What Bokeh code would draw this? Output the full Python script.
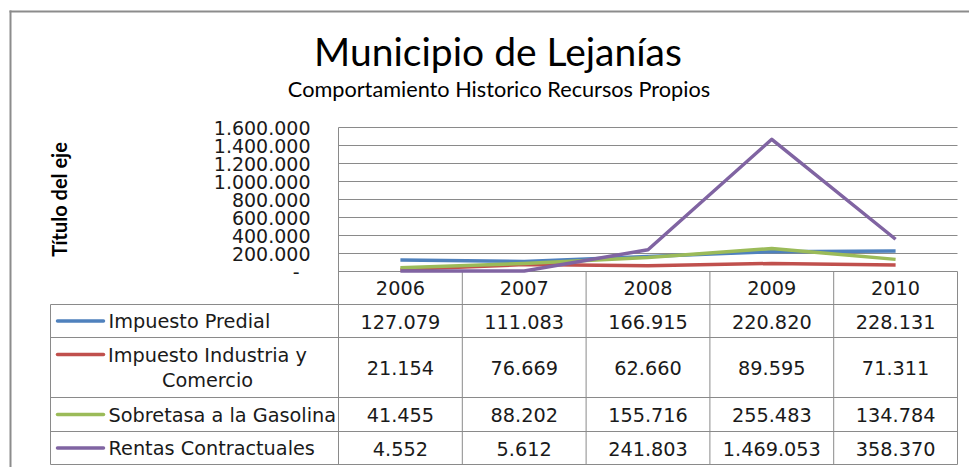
import math
from bokeh.plotting import figure
from bokeh.models import Range1d
from bokeh.core.properties import value
from bokeh.embed import file_html
from bokeh.resources import INLINE

# ---------------- data ----------------
title = "Municipio de Lejanías"
subtitle = "Comportamiento Historico Recursos Propios"
y_axis_title = "Título del eje"
years = ["2006", "2007", "2008", "2009", "2010"]
series_names = ["Impuesto Predial", "Impuesto Industria y Comercio",
                "Sobretasa a la Gasolina", "Rentas Contractuales"]
predial = [127079, 111083, 166915, 220820, 228131]
industria = [21154, 76669, 62660, 89595, 71311]
gasolina = [41455, 88202, 155716, 255483, 134784]
rentas = [4552, 5612, 241803, 1469053, 358370]
series_values = [predial, industria, gasolina, rentas]
series_colors = ["#4F81BD", "#C0504D", "#9BBB59", "#8064A2"]
y_ticks = [0, 200000, 400000, 600000, 800000, 1000000, 1200000, 1400000, 1600000]


def fmt(v):
    return "-" if v == 0 else f"{v:,.0f}".replace(",", ".")


def wrap(name, limit=24):
    if len(name) <= limit:
        return [name]
    cut = name.rfind(" ", 0, limit)
    return [name[:cut], name[cut + 1:]]


# ---------------- layout (page px) ----------------
W, H = 969, 467
OFF = 0


def X(rx):
    return rx - OFF


def Y(ry):
    return ry - OFF


PX0, PX1 = X(338), X(957)
PY_TOP, PY_ZERO = Y(127), Y(271)
YMAX = y_ticks[-1]
ncol = len(years)
colw = (PX1 - PX0) / ncol
vpp = YMAX / (PY_ZERO - PY_TOP)

GRID = "#8a8a8a"
TXT = "#1a1a1a"
TFONT = value("DejaVu Sans")
TICKSIZE = "19px"
TSIZE = "19.3px"

p = figure(width=W, height=H, x_range=Range1d(0, W), y_range=Range1d(H, 0),
           output_backend="svg", toolbar_location=None,
           x_axis_location=None, y_axis_location=None, title_location=None,
           min_border=0, outline_line_color=None)
p.grid.visible = False
p.background_fill_color = "white"
p.border_fill_color = "white"

p.extra_y_ranges = {"val": Range1d(start=-(H - PY_ZERO) * vpp, end=PY_ZERO * vpp)}
p.extra_x_ranges = {"cat": Range1d(start=-PX0 / colw - 0.5, end=(W - PX0) / colw - 0.5)}

# outer chart frame (top and left edges visible)
p.segment(x0=[X(9)], x1=[W], y0=[Y(11)], y1=[Y(11)], line_color="#8c8c8c", line_width=2)
p.segment(x0=[X(10)], x1=[X(10)], y0=[Y(10)], y1=[H], line_color="#8c8c8c", line_width=2)

# titles
p.text(x=[X(497.5)], y=[Y(50)], text=[title], text_font=value("Lato"),
       text_font_size="39px", text_align="center", text_baseline="alphabetic",
       text_color="#000000")
p.text(x=[X(498.5)], y=[Y(88)], text=[subtitle], text_font=value("Lato"),
       text_font_size="21.7px", text_align="center", text_baseline="alphabetic",
       text_color="#000000")

# y-axis title
p.text(x=[X(58)], y=[Y(199)], text=[y_axis_title], angle=math.pi / 2,
       text_font=value("Lato"), text_font_style="bold", text_font_size="20px",
       text_align="center", text_baseline="middle", text_color="#000000")

# horizontal gridlines through the value scale
p.segment(x0=PX0, x1=PX1, y0=y_ticks, y1=y_ticks, y_range_name="val",
          line_color=GRID, line_width=1)

# y tick labels
p.text(x=X(310), y=y_ticks[1:], text=[fmt(v) for v in y_ticks[1:]], y_range_name="val",
       text_font=TFONT, text_font_size=TICKSIZE, text_align="right",
       text_baseline="middle", text_color=TXT)
p.text(x=X(299), y=y_ticks[:1], text=[fmt(v) for v in y_ticks[:1]], y_range_name="val",
       text_font=TFONT, text_font_size=TICKSIZE, text_align="right",
       text_baseline="middle", text_color=TXT)

# data table geometry (page px)
HEAD_TOP = 271
row_tops = [304, 337, 397, 431]
TABLE_BOT = 464
row_bounds = row_tops + [TABLE_BOT]
LEG_LEFT = X(50)

# table horizontal lines
p.segment(x0=LEG_LEFT, x1=PX1, y0=[Y(v) for v in row_bounds], y1=[Y(v) for v in row_bounds],
          line_color=GRID, line_width=1)
# vertical lines
bounds = [i - 0.5 for i in range(ncol + 1)]
p.segment(x0=bounds[1:], x1=bounds[1:], y0=Y(HEAD_TOP), y1=Y(TABLE_BOT),
          x_range_name="cat", line_color=GRID, line_width=1)
p.segment(x0=bounds[:1], x1=bounds[:1], y0=PY_TOP, y1=Y(TABLE_BOT),
          x_range_name="cat", line_color=GRID, line_width=1)
p.segment(x0=[LEG_LEFT], x1=[LEG_LEFT], y0=Y(row_tops[0]), y1=Y(TABLE_BOT),
          line_color=GRID, line_width=1)

# header years
p.text(x=list(range(ncol)), y=Y((HEAD_TOP + row_tops[0]) / 2 - 0.5), text=years,
       x_range_name="cat", text_font=TFONT, text_font_size=TSIZE,
       text_align="center", text_baseline="middle", text_color=TXT)

# series lines
for vals, col in zip(series_values, series_colors):
    p.line(x=list(range(ncol)), y=vals, x_range_name="cat", y_range_name="val",
           line_color=col, line_width=3.5, line_join="round")

# table rows
for r, (name, vals, col) in enumerate(zip(series_names, series_values, series_colors)):
    top, bot = row_bounds[r], row_bounds[r + 1]
    mid = (top + bot) / 2
    lines = wrap(name)
    p.text(x=list(range(ncol)), y=Y(mid + 0.5), text=[fmt(v) for v in vals],
           x_range_name="cat", text_font=TFONT, text_font_size=TSIZE,
           text_align="center", text_baseline="middle", text_color=TXT)
    if len(lines) == 1:
        sy = mid
        p.text(x=[X(108)], y=[Y(mid + 0.5)], text=lines, text_font=TFONT,
               text_font_size=TSIZE, text_align="left", text_baseline="middle",
               text_color=TXT)
    else:
        sy = mid - 13
        p.text(x=[X(207)] * 2, y=[Y(mid - 12), Y(mid + 12.5)], text=lines, text_font=TFONT,
               text_font_size=TSIZE, text_align="center", text_baseline="middle",
               text_color=TXT)
    p.segment(x0=[X(57)], x1=[X(103)], y0=[Y(sy)], y1=[Y(sy)], line_color=col,
              line_width=3.5, line_cap="round")

open("out.html", "w").write(file_html(p, INLINE))
